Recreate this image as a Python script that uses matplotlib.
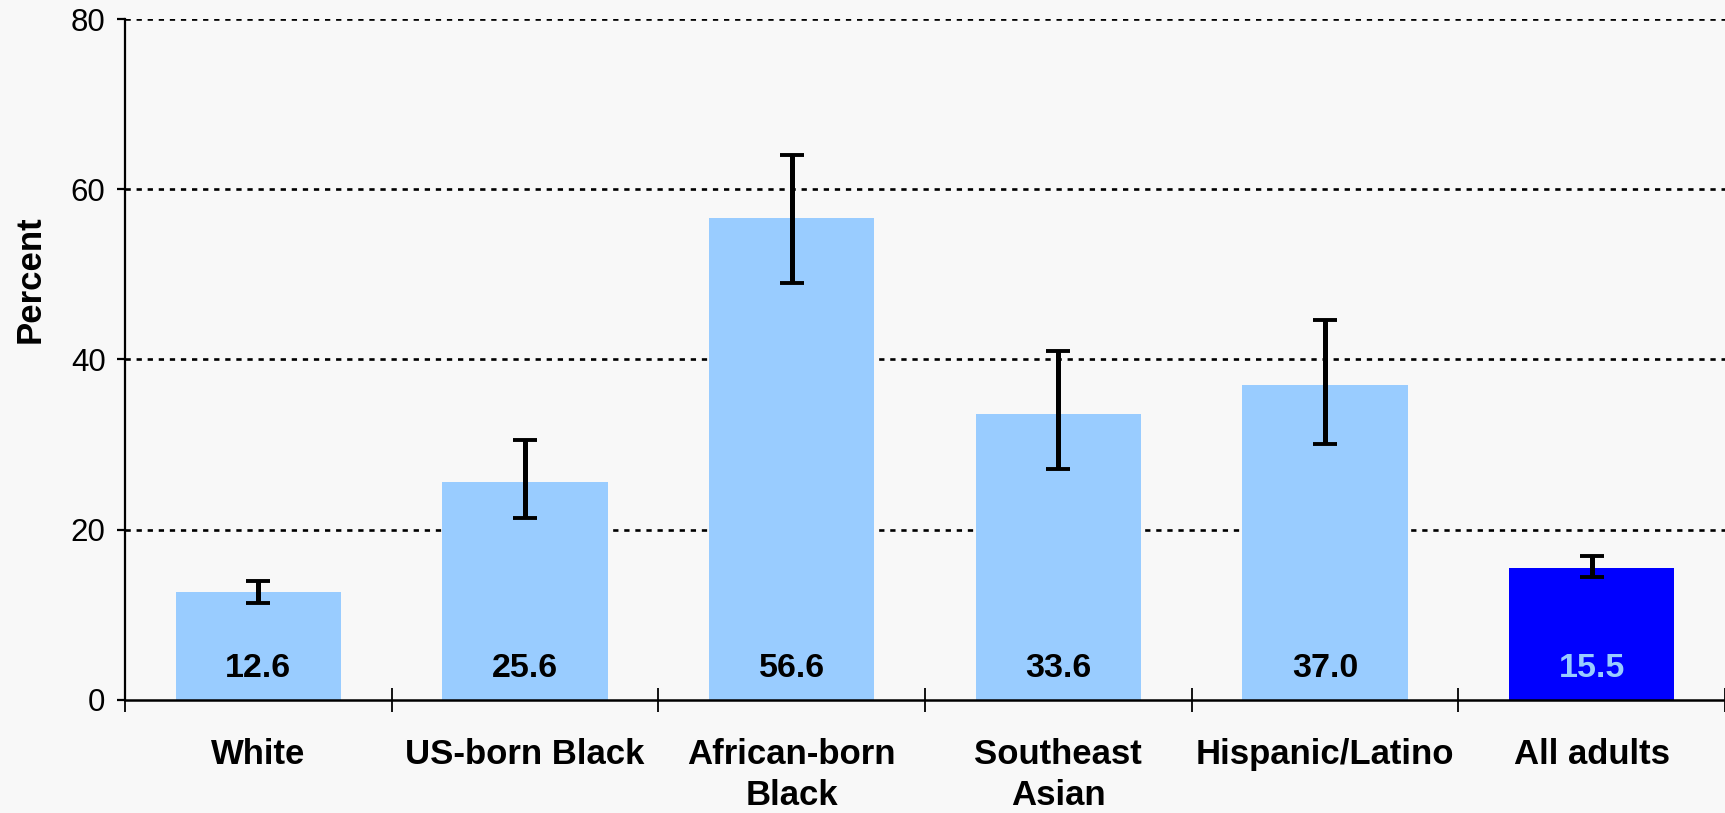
import matplotlib.pyplot as plt
from matplotlib.ticker import FixedLocator

# Category names and the values.
CATEGORIES = ["White", "US-born Black", "African-born\nBlack", "Southeast\nAsian",
              "Hispanic/Latino", "All adults"]
VALUES = [12.6, 25.6, 56.6, 33.6, 37.0, 15.5]
# Lower and upper ends of the confidence intervals.
CI_LOW = [11.3, 21.3, 49.0, 27.1, 30.1, 14.4]
CI_HIGH = [13.9, 30.5, 64.1, 41.0, 44.7, 16.9]
Y_TICKS = [0, 20, 40, 60, 80]

BG = "#f8f8f8"
LIGHT = "#99ccff"
DARK = "#0000ff"


def main():
    plt.rcParams["font.family"] = ["Liberation Sans", "DejaVu Sans"]

    fig = plt.figure(figsize=(17.25, 8.13), dpi=100, facecolor=BG)
    ax = fig.add_axes([125 / 1725, 1 - 699.5 / 813, 1 - 125 / 1725, (699.5 - 19.5) / 813])
    ax.set_facecolor(BG)

    x = list(range(len(CATEGORIES)))
    colors = [LIGHT] * (len(CATEGORIES) - 1) + [DARK]
    ax.bar(x, VALUES, width=0.62, color=colors, zorder=2)

    # Error bars are asymmetric, so build the offsets from the CI ends.
    err_low = [v - lo for v, lo in zip(VALUES, CI_LOW)]
    err_high = [hi - v for v, hi in zip(VALUES, CI_HIGH)]
    ax.errorbar(x, VALUES, yerr=[err_low, err_high], fmt="none", ecolor="black",
                elinewidth=3.6, capsize=8.5, capthick=2.8, zorder=3)

    # Value labels near the bottom of each bar.
    for i, v in enumerate(VALUES):
        col = LIGHT if i == len(VALUES) - 1 else "black"
        ax.text(i, 3.7, f"{v:.1f}", ha="center", va="center", fontsize=24.5,
                fontweight="bold", color=col, zorder=4)

    ax.set_xlim(-0.5, len(CATEGORIES) - 0.5)
    ax.set_ylim(0, 80)
    ax.set_yticks(Y_TICKS)
    ax.tick_params(axis="y", direction="out", length=6, width=1.6, pad=8, labelsize=22.5)

    ax.set_xticks(x)
    ax.set_xticklabels(CATEGORIES, fontsize=25, fontweight="bold", linespacing=1.3)
    ax.tick_params(axis="x", which="major", length=0, pad=28)
    ax.xaxis.set_minor_locator(FixedLocator([i - 0.5 for i in range(len(CATEGORIES) + 1)]))
    ax.tick_params(axis="x", which="minor", direction="inout", length=17, width=1.3)

    for y in Y_TICKS[1:]:
        ax.axhline(y, color="black", linestyle=(0, (2.0, 2.2)), linewidth=1.9, zorder=1)

    for side in ["top", "right"]:
        ax.spines[side].set_visible(False)
    ax.spines["left"].set_linewidth(1.6)
    ax.spines["bottom"].set_linewidth(1.8)
    ax.spines["bottom"].set_zorder(5)

    fig.text(30 / 1725, 1 - 279 / 813, "Percent", rotation=90, ha="center", va="center",
             fontsize=25, fontweight="bold")

    fig.savefig("out.png", dpi=100, facecolor=BG)
    plt.close(fig)


if __name__ == "__main__":
    main()
